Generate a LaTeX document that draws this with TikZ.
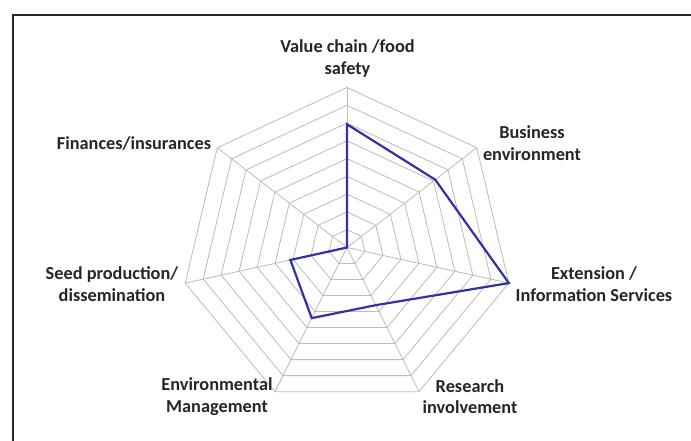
\documentclass[tikz,border=0pt]{standalone}
\usepackage{fontspec}
\setmainfont{Carlito}
\usepackage{xcolor}
\usetikzlibrary{calc}
\definecolor{gridtan}{RGB}{196,186,176}
\definecolor{lineblue}{RGB}{50,50,165}
\definecolor{framegray}{RGB}{38,38,38}

\begin{document}
\begin{tikzpicture}[x=1pt,y=-1pt,
      label style/.style={font=\fontsize{18.3}{21.5}\selectfont\bfseries,
        align=center,inner sep=0pt,text=black!85},
      grid style/.style={draw=gridtan,line width=0.8pt},
      data style/.style={draw=lineblue,line width=2.2pt,line join=miter}
      ]
      \useasboundingbox (0,0) rectangle (691,441);
      \fill[white] (0,0) rectangle (691,441);
      \draw[framegray,line width=2pt] (12.5,445) -- (12.5,15) -- (695,15);

      % radar grid
      \begin{scope}[shift={(347,247.5)},x=166pt,y=160pt]
        \coordinate (c) at (0,0);
        \foreach \r in {1,...,9}
          \draw[grid style] (90:{\r/9}) \foreach \k in {1,...,6} {
            -- ({90-\k*360/7}:{\r/9}) } -- cycle;
        \foreach \k in {0,...,6}
          \draw[grid style] (c) -- ({90-\k*360/7}:1);

        % data
        \draw[data style] (90:0.77) -- ({90-360/7}:0.68)
          -- ({90-2*360/7}:1) -- ({90-3*360/7}:0.4)
          -- ({90-4*360/7}:0.49) -- ({90-5*360/7}:0.35)
          -- (c) -- cycle;
      \end{scope}

      \node[label style] (value) at (347.5,58.5) {Value chain /food\\safety};
      \node[label style] (business) at (532,143) {Business\\environment};
      \node[label style] (extension) at (594,284) {Extension /\\Information Services};
      \node[label style] (research) at (470,396.5) {Research\\involvement};
      \node[label style] (environ) at (217,396.5) {Environmental\\Management};
      \node[label style] (seed) at (112,284) {Seed production/\\dissemination};
      \node[label style] (finance) at (134,143) {Finances/insurances};

    \end{tikzpicture}
\end{document}
